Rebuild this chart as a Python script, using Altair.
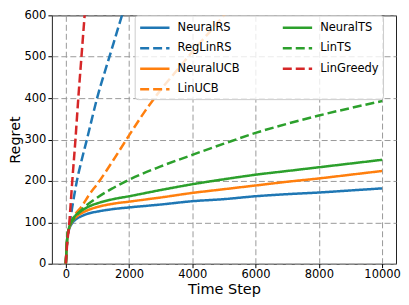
import altair as alt
import pandas as pd

# ---- data ----
solid_t = [0, 50, 100, 200, 300, 500, 750, 1000, 1500, 2000, 3000, 4000, 5000, 6000, 7000, 8000, 9000, 10000]
neural_rs = [0, 65, 82, 98, 106, 115, 122, 126, 132, 136, 143, 151, 156, 163, 168, 172, 177, 182]
neural_ucb = [0, 65, 84, 102, 111, 122, 131, 137, 145, 150, 160, 171, 180, 189, 198, 206, 215, 224]
neural_ts = [0, 66, 86, 106, 116, 128, 139, 146, 156, 163, 178, 192, 204, 215, 224, 233, 242, 251]

reglinrs_t = [0, 50, 100, 200, 350, 500, 650, 1000, 1400, 1850, 2200]
reglinrs = [0, 62, 85, 135, 200, 250, 295, 403, 505, 618, 700]

linucb_t = [0, 50, 100, 250, 500, 750, 1000, 1500, 2000, 2500, 3000, 3500, 4000, 4500, 5000, 5500]
linucb = [0, 64, 85, 113, 138, 168, 193, 250, 310, 368, 420, 466, 512, 556, 600, 645]

lints_t = [0, 50, 100, 250, 500, 1000, 1500, 2000, 3000, 4000, 5000, 6000, 7000, 8000, 9000, 10000]
lints = [0, 65, 85, 108, 130, 160, 183, 203, 235, 263, 290, 316, 338, 358, 376, 393]

lingreedy_t = [0, 50, 100, 150, 200, 300, 400, 500, 600, 700]
lingreedy = [0, 55, 88, 140, 195, 295, 405, 505, 605, 705]

# legend order (Vega fills the two columns top-to-bottom)
legend_order = ["NeuralRS", "RegLinRS", "NeuralUCB", "LinUCB", "NeuralTS", "LinTS", "LinGreedy"]
legend_colors = ["#1f77b4", "#1f77b4", "#ff7f0e", "#ff7f0e", "#2ca02c", "#2ca02c", "#d62728"]
legend_dashes = [[1, 0], [9, 4], [1, 0], [9, 4], [1, 0], [9, 4], [9, 4]]

series = [
    ("NeuralRS", solid_t, neural_rs),
    ("RegLinRS", reglinrs_t, reglinrs),
    ("NeuralUCB", solid_t, neural_ucb),
    ("LinUCB", linucb_t, linucb),
    ("NeuralTS", solid_t, neural_ts),
    ("LinTS", lints_t, lints),
    ("LinGreedy", lingreedy_t, lingreedy),
]
rows = []
for k, (name, ts, vs) in enumerate(series):
    for t, v in zip(ts, vs):
        rows.append({"series": name, "t": t, "v": v, "k": k})
df = pd.DataFrame(rows)

FONT = "DejaVu Sans"

legend = alt.Legend(
    title=None, orient="none", legendX=83, legendY=0, columns=2,
    symbolType="M-1,0H3.2", symbolSize=196, symbolStrokeWidth=2.5,
    labelFont=FONT, labelFontSize=11.5, labelColor="#000", labelOffset=22,
    fillColor="rgba(255,255,255,0.8)", strokeColor="#cccccc", cornerRadius=3,
    padding=4, rowPadding=6.5, columnPadding=37,
)

chart = alt.Chart(df).mark_line(strokeWidth=2.5, clip=True, interpolate="monotone").encode(
    x=alt.X("t:Q", scale=alt.Scale(domain=[-440, 10440], nice=False, zero=False),
            axis=alt.Axis(values=[0, 2000, 4000, 6000, 8000, 10000], format="d", title="Time Step")),
    y=alt.Y("v:Q", scale=alt.Scale(domain=[0, 600], nice=False),
            axis=alt.Axis(values=[0, 100, 200, 300, 400, 500, 600], title="Regret")),
    color=alt.Color("series:N", scale=alt.Scale(domain=legend_order, range=legend_colors), legend=legend),
    strokeDash=alt.StrokeDash("series:N", scale=alt.Scale(domain=legend_order, range=legend_dashes), legend=legend),
    detail="k:N",
    order="t:Q",
).properties(
    width=345, height=249,
    autosize=alt.AutoSizeParams(type="none"),
    padding={"left": 44, "top": 7, "right": 5, "bottom": 33},
).configure_view(
    stroke="#222", strokeWidth=1,
).configure_axis(
    domain=False, grid=True, gridColor="#9a9a9a", gridDash=[6, 3], gridWidth=1,
    tickColor="#000", tickSize=4, tickWidth=1,
    labelFont=FONT, labelFontSize=11.5, labelColor="#000", labelPadding=2,
    titleFont=FONT, titleFontSize=14.5, titleFontWeight="normal", titleColor="#000",
).configure_axisX(
    labelPadding=1, titleBaseline="alphabetic", titleY=30,
).configure_axisY(
    titleBaseline="alphabetic", titleX=-32,
)

chart.save("out.html", embed_options={"renderer": "svg", "actions": False})
